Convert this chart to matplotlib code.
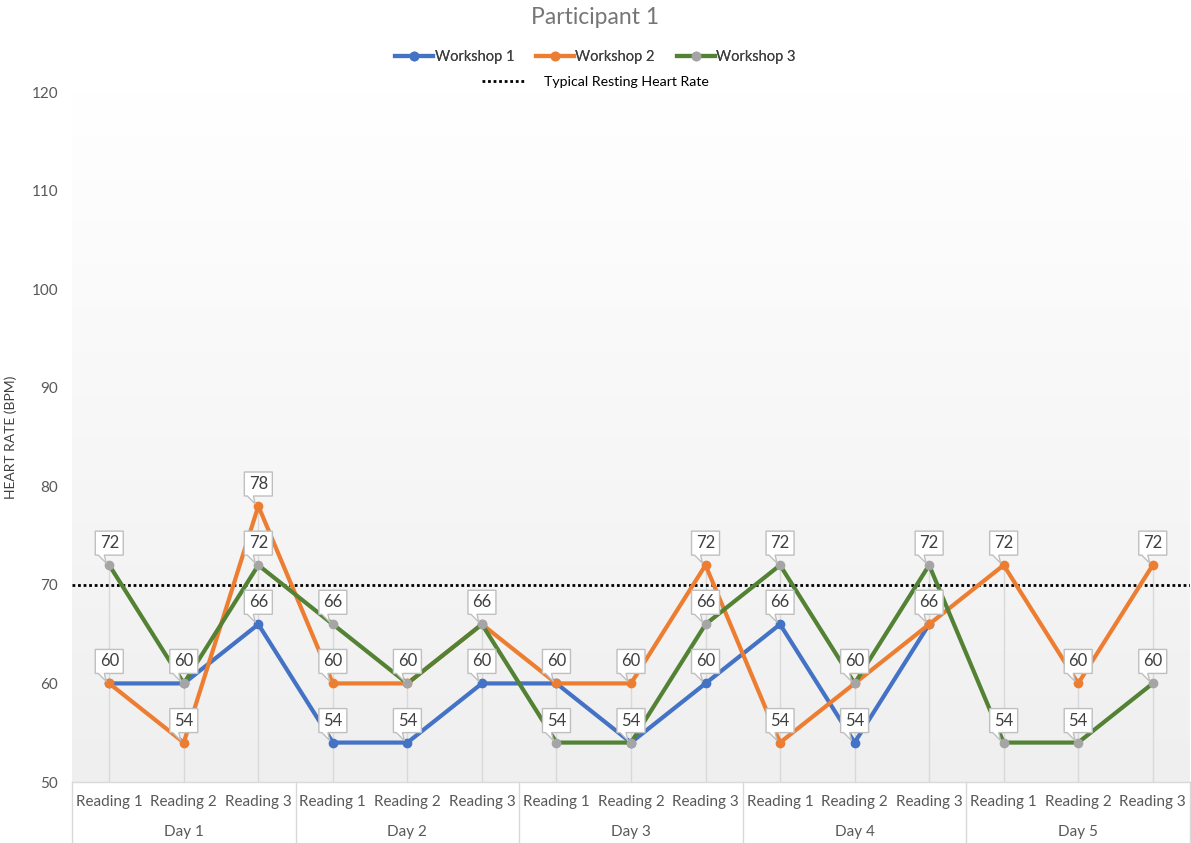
import numpy as np
import matplotlib
matplotlib.use("Agg")
import matplotlib.pyplot as plt
from matplotlib.lines import Line2D
from matplotlib.patches import Polygon
import matplotlib.transforms as mtransforms

plt.rcParams['font.family'] = ['Lato', 'DejaVu Sans']

readings = ["Reading 1", "Reading 2", "Reading 3"]
days = ["Day 1", "Day 2", "Day 3", "Day 4", "Day 5"]

workshop1 = [60, 60, 66, 54, 54, 60, 60, 54, 60, 66, 54, 66, np.nan, np.nan, np.nan]
workshop2 = [60, 54, 78, 60, 60, 66, 60, 60, 72, 54, 60, 66, 72, 60, 72]
workshop3 = [72, 60, 72, 66, 60, 66, 54, 54, 66, 72, 60, 72, 54, 54, 60]
resting = 70

series = [
    ("Workshop 1", workshop1, "#4472c4", "#4472c4"),
    ("Workshop 2", workshop2, "#ed7d31", "#ed7d31"),
    ("Workshop 3", workshop3, "#548235", "#a5a5a5"),
]

fig = plt.figure(figsize=(11.91, 8.43), dpi=100)
ax = fig.add_axes([72/1191, 61/843, 1118/1191, 690/843])
n = len(days) * len(readings)
x = np.arange(n)
ax.set_xlim(-0.5, n - 0.5)
ax.set_ylim(50, 120)

# background gradient
grad = np.linspace(0, 1, 256).reshape(-1, 1)
ax.imshow(grad, extent=[0, 1, 0, 1], transform=ax.transAxes, aspect='auto',
          cmap=matplotlib.colors.LinearSegmentedColormap.from_list("g", ["#efefef", "#ffffff"]),
          origin='lower', zorder=0)

# drop lines from the highest point of each category
tops = np.nanmax(np.vstack([workshop1, workshop2, workshop3]), axis=0)
ax.vlines(x, 50, tops, color="#d9d9d9", lw=1, zorder=1)

ax.axhline(resting, color="black", lw=2, ls=(0, (1, 1)), zorder=2)

for name, vals, lc, mc in series:
    ax.plot(x, vals, color=lc, lw=3, marker='o', ms=6, mfc=mc, mec=mc, zorder=3)

# callout labels (one per position, overlapping ones coincide anyway)
box = [(-14, 10), (-11, 10), (-3, 2), (-5, 10), (14, 10), (14, 34), (-14, 34)]
done = set()
for name, vals, lc, mc in series:
    for xi, v in zip(x, vals):
        if np.isnan(v) or (xi, v) in done:
            continue
        done.add((xi, v))
        tr = mtransforms.ScaledTranslation(xi, v, ax.transData)
        ax.add_patch(Polygon(box, closed=True, facecolor="white", edgecolor="#bfbfbf",
                             lw=1, transform=tr, zorder=5, clip_on=False))
        ax.annotate(str(int(v)), (xi, v), xytext=(0, 22 * 0.72), textcoords='offset points',
                    ha='center', va='center', fontsize=12, color="#404040", zorder=6)

for s in ax.spines.values():
    s.set_visible(False)
ax.set_xticks([])
ax.set_yticks(range(50, 121, 10))
ax.tick_params(axis='y', length=0, labelsize=11, labelcolor="#595959", pad=10)
ax.set_ylabel("HEART RATE (BPM)", fontsize=10, color="#404040")
ax.yaxis.set_label_coords(-55/1118, 0.5)

# category axis table
ax.plot([0, 1], [0, 0], transform=ax.transAxes, color="#d9d9d9", lw=1, clip_on=False)
for d in range(len(days) + 1):
    xd = d * 3 - 0.5
    ax.plot([xd, xd], [50, 50 - 6.5], color="#d9d9d9", lw=1, clip_on=False)
for d, day in enumerate(days):
    for r, rd in enumerate(readings):
        ax.text(d * 3 + r, 50 - 2.0, rd, ha='center', va='center', fontsize=11, color="#595959")
    ax.text(d * 3 + 1, 50 - 5.1, day, ha='center', va='center', fontsize=11, color="#595959")

fig.text(0.5, 1 - 18/843, "Participant 1", ha='center', va='center', fontsize=16.5, color="#767676")

handles = [Line2D([], [], color=lc, lw=3, marker='o', ms=6, mfc=mc, mec=mc) for _, _, lc, mc in series]
leg1 = fig.legend(handles, [s[0] for s in series], loc='center', bbox_to_anchor=(0.5, 1 - 57/843),
                  ncol=3, frameon=False, fontsize=10.5, handlelength=2.6, handletextpad=0.1,
                  columnspacing=1.5, labelcolor="#404040")
fig.legend([Line2D([], [], color="black", lw=2, ls=(0, (1, 1)))], ["Typical Resting Heart Rate"],
           loc='center', bbox_to_anchor=(0.5, 1 - 82/843), frameon=False, fontsize=10.2,
           handlelength=3.0, handletextpad=1.4, labelcolor="black")
fig.add_artist(leg1)

fig.savefig("out.png", dpi=100)
